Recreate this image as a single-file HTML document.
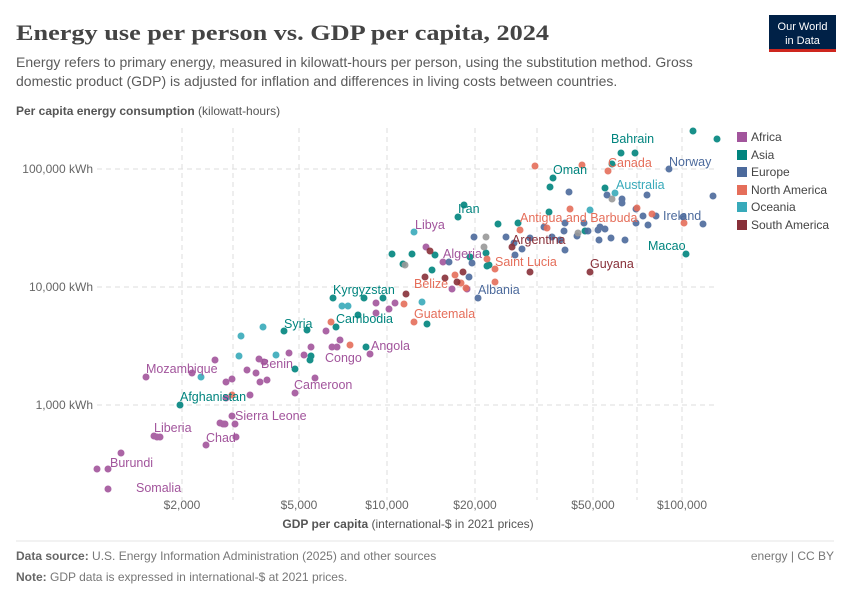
<!DOCTYPE html>
<html><head><meta charset="utf-8"><style>
body{margin:0;background:#fff;width:850px;height:600px;overflow:hidden;font-family:"Liberation Sans",sans-serif}
svg{position:absolute;left:0;top:0}
</style></head><body>
<svg width="850" height="600" viewBox="0 0 850 600" font-family="Liberation Sans, sans-serif">
<text x="16" y="40" font-family="Liberation Serif, serif" font-size="22" font-weight="bold" fill="#444" textLength="533" lengthAdjust="spacingAndGlyphs">Energy use per person vs. GDP per capita, 2024</text>
<text x="16" y="67" font-size="14" fill="#5b5b5b">Energy refers to primary energy, measured in kilowatt-hours per person, using the substitution method. Gross</text>
<text x="16" y="86" font-size="14" fill="#5b5b5b">domestic product (GDP) is adjusted for inflation and differences in living costs between countries.</text>
<rect x="769" y="15" width="67" height="37" fill="#002147"/><rect x="769" y="49" width="67" height="3" fill="#ce261e"/>
<text x="802.5" y="30" font-size="11" fill="#fff" text-anchor="middle">Our World</text>
<text x="802.5" y="44" font-size="11" fill="#fff" text-anchor="middle">in Data</text>
<text x="16" y="115" font-size="12" fill="#555"><tspan font-weight="bold">Per capita energy consumption</tspan> (kilowatt-hours)</text>
<g stroke="#ddd" stroke-dasharray="5,4" stroke-width="1">
<line x1="97" x2="718" y1="169" y2="169"/><line x1="97" x2="718" y1="287" y2="287"/><line x1="97" x2="718" y1="405" y2="405"/>
<line x1="182" x2="182" y1="128" y2="500"/><line x1="233" x2="233" y1="128" y2="500"/><line x1="299" x2="299" y1="128" y2="500"/><line x1="387" x2="387" y1="128" y2="500"/><line x1="475" x2="475" y1="128" y2="500"/><line x1="537" x2="537" y1="128" y2="500"/><line x1="593" x2="593" y1="128" y2="500"/><line x1="637" x2="637" y1="128" y2="500"/><line x1="682" x2="682" y1="128" y2="500"/>
</g>
<g font-size="12" fill="#666" text-anchor="end">
<text x="93" y="173">100,000 kWh</text><text x="93" y="291">10,000 kWh</text><text x="93" y="409">1,000 kWh</text></g>
<g font-size="12" fill="#666" text-anchor="middle">
<text x="182" y="509">$2,000</text><text x="299" y="509">$5,000</text><text x="387" y="509">$10,000</text><text x="475" y="509">$20,000</text><text x="593" y="509">$50,000</text><text x="682" y="509">$100,000</text></g>
<text x="408" y="528" font-size="12" fill="#555" text-anchor="middle"><tspan font-weight="bold">GDP per capita</tspan> (international-$ in 2021 prices)</text>
<g fill="#a2559c" opacity="0.9">
<circle cx="108" cy="489" r="3.5"/><circle cx="97" cy="469" r="3.5"/><circle cx="108" cy="469" r="3.5"/><circle cx="121" cy="453" r="3.5"/><circle cx="154" cy="436" r="3.5"/><circle cx="157" cy="437" r="3.5"/><circle cx="160" cy="437" r="3.5"/><circle cx="206" cy="445" r="3.5"/><circle cx="236" cy="437" r="3.5"/><circle cx="232" cy="416" r="3.5"/><circle cx="220" cy="423" r="3.5"/><circle cx="223" cy="424" r="3.5"/><circle cx="225" cy="424" r="3.5"/><circle cx="235" cy="424" r="3.5"/><circle cx="226" cy="398" r="3.5"/><circle cx="146" cy="377" r="3.5"/><circle cx="192" cy="373" r="3.5"/><circle cx="215" cy="360" r="3.5"/><circle cx="226" cy="382" r="3.5"/><circle cx="250" cy="395" r="3.5"/><circle cx="256" cy="373" r="3.5"/><circle cx="260" cy="382" r="3.5"/><circle cx="259" cy="359" r="3.5"/><circle cx="264" cy="362" r="3.5"/><circle cx="232" cy="379" r="3.5"/><circle cx="247" cy="370" r="3.5"/><circle cx="267" cy="380" r="3.5"/><circle cx="295" cy="393" r="3.5"/><circle cx="315" cy="378" r="3.5"/><circle cx="304" cy="355" r="3.5"/><circle cx="311" cy="347" r="3.5"/><circle cx="332" cy="347" r="3.5"/><circle cx="337" cy="347" r="3.5"/><circle cx="326" cy="331" r="3.5"/><circle cx="370" cy="354" r="3.5"/><circle cx="376" cy="303" r="3.5"/><circle cx="376" cy="313" r="3.5"/><circle cx="395" cy="303" r="3.5"/><circle cx="389" cy="309" r="3.5"/><circle cx="426" cy="247" r="3.5"/><circle cx="443" cy="262" r="3.5"/><circle cx="452" cy="289" r="3.5"/><circle cx="467" cy="289" r="3.5"/><circle cx="289" cy="353" r="3.5"/><circle cx="340" cy="340" r="3.5"/>
</g>
<g fill="#00847e" opacity="0.9">
<circle cx="180" cy="405" r="3.5"/><circle cx="284" cy="331" r="3.5"/><circle cx="307" cy="330" r="3.5"/><circle cx="310" cy="360" r="3.5"/><circle cx="311" cy="356" r="3.5"/><circle cx="295" cy="369" r="3.5"/><circle cx="336" cy="327" r="3.5"/><circle cx="333" cy="298" r="3.5"/><circle cx="364" cy="298" r="3.5"/><circle cx="366" cy="347" r="3.5"/><circle cx="383" cy="298" r="3.5"/><circle cx="392" cy="254" r="3.5"/><circle cx="412" cy="254" r="3.5"/><circle cx="458" cy="217" r="3.5"/><circle cx="498" cy="224" r="3.5"/><circle cx="486" cy="253" r="3.5"/><circle cx="487" cy="266" r="3.5"/><circle cx="489" cy="265" r="3.5"/><circle cx="470" cy="257" r="3.5"/><circle cx="553" cy="178" r="3.5"/><circle cx="550" cy="187" r="3.5"/><circle cx="612" cy="164" r="3.5"/><circle cx="635" cy="153" r="3.5"/><circle cx="621" cy="153" r="3.5"/><circle cx="693" cy="131" r="3.5"/><circle cx="717" cy="139" r="3.5"/><circle cx="605" cy="188" r="3.5"/><circle cx="585" cy="231" r="3.5"/><circle cx="549" cy="212" r="3.5"/><circle cx="686" cy="254" r="3.5"/><circle cx="427" cy="324" r="3.5"/><circle cx="403" cy="264" r="3.5"/><circle cx="432" cy="270" r="3.5"/><circle cx="435" cy="255" r="3.5"/><circle cx="464" cy="205" r="3.5"/><circle cx="518" cy="223" r="3.5"/><circle cx="358" cy="315" r="3.5"/>
</g>
<g fill="#4c6a9c" opacity="0.9">
<circle cx="478" cy="298" r="3.5"/><circle cx="469" cy="277" r="3.5"/><circle cx="472" cy="263" r="3.5"/><circle cx="449" cy="262" r="3.5"/><circle cx="474" cy="237" r="3.5"/><circle cx="506" cy="237" r="3.5"/><circle cx="515" cy="255" r="3.5"/><circle cx="530" cy="238" r="3.5"/><circle cx="522" cy="249" r="3.5"/><circle cx="544" cy="227" r="3.5"/><circle cx="552" cy="237" r="3.5"/><circle cx="564" cy="231" r="3.5"/><circle cx="565" cy="223" r="3.5"/><circle cx="565" cy="250" r="3.5"/><circle cx="569" cy="192" r="3.5"/><circle cx="588" cy="231" r="3.5"/><circle cx="598" cy="230" r="3.5"/><circle cx="599" cy="240" r="3.5"/><circle cx="605" cy="229" r="3.5"/><circle cx="611" cy="238" r="3.5"/><circle cx="607" cy="195" r="3.5"/><circle cx="622" cy="199" r="3.5"/><circle cx="622" cy="203" r="3.5"/><circle cx="636" cy="209" r="3.5"/><circle cx="636" cy="223" r="3.5"/><circle cx="643" cy="216" r="3.5"/><circle cx="647" cy="195" r="3.5"/><circle cx="648" cy="225" r="3.5"/><circle cx="656" cy="216" r="3.5"/><circle cx="669" cy="169" r="3.5"/><circle cx="683" cy="217" r="3.5"/><circle cx="713" cy="196" r="3.5"/><circle cx="703" cy="224" r="3.5"/><circle cx="584" cy="223" r="3.5"/><circle cx="577" cy="236" r="3.5"/><circle cx="560" cy="240" r="3.5"/><circle cx="514" cy="243" r="3.5"/><circle cx="625" cy="240" r="3.5"/><circle cx="600" cy="227" r="3.5"/>
</g>
<g fill="#e56e5a" opacity="0.9">
<circle cx="414" cy="322" r="3.5"/><circle cx="404" cy="304" r="3.5"/><circle cx="331" cy="322" r="3.5"/><circle cx="350" cy="345" r="3.5"/><circle cx="232" cy="395" r="3.5"/><circle cx="455" cy="275" r="3.5"/><circle cx="461" cy="283" r="3.5"/><circle cx="466" cy="288" r="3.5"/><circle cx="487" cy="259" r="3.5"/><circle cx="495" cy="269" r="3.5"/><circle cx="495" cy="282" r="3.5"/><circle cx="535" cy="166" r="3.5"/><circle cx="582" cy="165" r="3.5"/><circle cx="608" cy="171" r="3.5"/><circle cx="570" cy="209" r="3.5"/><circle cx="547" cy="228" r="3.5"/><circle cx="637" cy="208" r="3.5"/><circle cx="652" cy="214" r="3.5"/><circle cx="684" cy="223" r="3.5"/><circle cx="520" cy="230" r="3.5"/>
</g>
<g fill="#38aaba" opacity="0.9">
<circle cx="241" cy="336" r="3.5"/><circle cx="263" cy="327" r="3.5"/><circle cx="239" cy="356" r="3.5"/><circle cx="201" cy="377" r="3.5"/><circle cx="276" cy="355" r="3.5"/><circle cx="342" cy="306" r="3.5"/><circle cx="348" cy="306" r="3.5"/><circle cx="422" cy="302" r="3.5"/><circle cx="414" cy="232" r="3.5"/><circle cx="590" cy="210" r="3.5"/><circle cx="615" cy="193" r="3.5"/>
</g>
<g fill="#883039" opacity="0.9">
<circle cx="430" cy="251" r="3.5"/><circle cx="425" cy="277" r="3.5"/><circle cx="406" cy="294" r="3.5"/><circle cx="445" cy="278" r="3.5"/><circle cx="463" cy="272" r="3.5"/><circle cx="512" cy="247" r="3.5"/><circle cx="530" cy="272" r="3.5"/><circle cx="590" cy="272" r="3.5"/><circle cx="457" cy="282" r="3.5"/>
</g>
<g fill="#999" opacity="0.9">
<circle cx="486" cy="237" r="3.5"/><circle cx="484" cy="247" r="3.5"/><circle cx="612" cy="199" r="3.5"/><circle cx="578" cy="233" r="3.5"/><circle cx="405" cy="265" r="3.5"/>
</g>
<g font-size="12.5">
<g fill="#a2559c"><text x="136" y="492">Somalia</text><text x="110" y="467">Burundi</text><text x="154" y="432">Liberia</text><text x="206" y="442">Chad</text><text x="235" y="420">Sierra Leone</text><text x="146" y="373">Mozambique</text><text x="261" y="368">Benin</text><text x="294" y="389">Cameroon</text><text x="325" y="362">Congo</text><text x="371" y="350">Angola</text><text x="415" y="229">Libya</text><text x="443" y="258">Algeria</text></g>
<g fill="#00847e"><text x="180" y="401">Afghanistan</text><text x="284" y="328">Syria</text><text x="333" y="294">Kyrgyzstan</text><text x="336" y="323">Cambodia</text><text x="458" y="213">Iran</text><text x="553" y="174">Oman</text><text x="611" y="143">Bahrain</text><text x="648" y="250">Macao</text></g>
<g fill="#4c6a9c"><text x="478" y="294">Albania</text><text x="669" y="166">Norway</text><text x="663" y="220">Ireland</text></g>
<g fill="#e56e5a"><text x="414" y="288">Belize</text><text x="414" y="318">Guatemala</text><text x="495" y="266">Saint Lucia</text><text x="520" y="222">Antigua and Barbuda</text><text x="608" y="167">Canada</text></g>
<g fill="#38aaba"><text x="616" y="189">Australia</text></g>
<g fill="#883039"><text x="512" y="244">Argentina</text><text x="590" y="268">Guyana</text></g>
</g>
<g font-size="12" fill="#444">
<rect x="737" y="132" width="10" height="10" fill="#a2559c"/><text x="751" y="141">Africa</text>
<rect x="737" y="150" width="10" height="10" fill="#00847e"/><text x="751" y="159">Asia</text>
<rect x="737" y="167" width="10" height="10" fill="#4c6a9c"/><text x="751" y="176">Europe</text>
<rect x="737" y="185" width="10" height="10" fill="#e56e5a"/><text x="751" y="194">North America</text>
<rect x="737" y="202" width="10" height="10" fill="#38aaba"/><text x="751" y="211">Oceania</text>
<rect x="737" y="220" width="10" height="10" fill="#883039"/><text x="751" y="229">South America</text>
</g>
<line x1="16" x2="834" y1="541" y2="541" stroke="#e6e6e6"/>
<text x="16" y="560" font-size="12" fill="#777"><tspan font-weight="bold" fill="#666">Data source:</tspan> U.S. Energy Information Administration (2025) and other sources</text>
<text x="834" y="560" font-size="12" fill="#777" text-anchor="end">energy | CC BY</text>
<text x="16" y="581" font-size="12" fill="#777"><tspan font-weight="bold" fill="#666">Note:</tspan> GDP data is expressed in international-$ at 2021 prices.</text>
</svg>
</body></html>
